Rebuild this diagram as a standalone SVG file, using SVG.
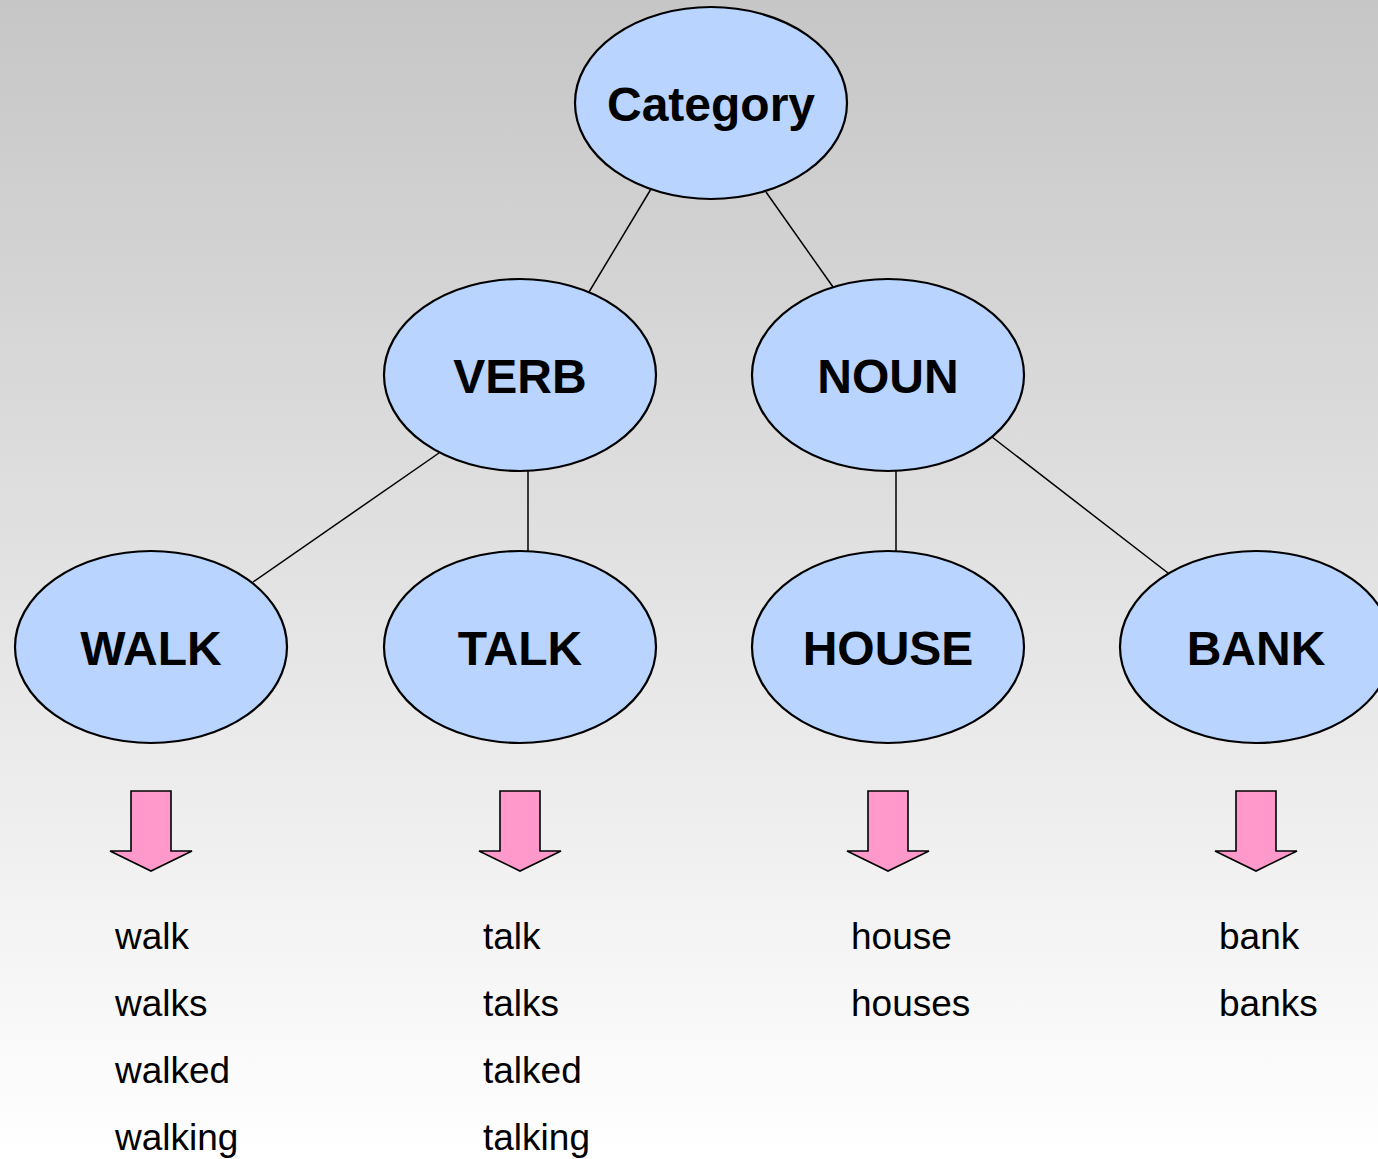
<svg xmlns="http://www.w3.org/2000/svg" width="1378" height="1159" viewBox="0 0 1378 1159">
  <defs>
    <linearGradient id="bg" x1="0" y1="0" x2="0" y2="1">
      <stop offset="0" stop-color="#c6c6c6"/>
      <stop offset="1" stop-color="#ffffff"/>
    </linearGradient>
    <path id="downArrow" d="M-20,-80 H20 V-20 H41 L0,0 L-41,-20 H-20 Z"/>
  </defs>
  <style>
    .node ellipse { fill: #b8d4ff; stroke: #000; stroke-width: 2.2; }
    .node text { font-family: "Liberation Sans", Arial, sans-serif; font-weight: bold; font-size: 48px; fill: #000; text-anchor: middle; }
    .edges line { stroke: #000; stroke-width: 1.5; }
    .arrow { fill: #ff99cc; stroke: #000; stroke-width: 1.6; }
    .forms text { font-family: "Liberation Sans", Arial, sans-serif; font-size: 37px; fill: #000; }
  </style>

  <rect x="0" y="0" width="1378" height="1159" fill="url(#bg)"/>

  <g class="edges" id="connectors">
    <line x1="651" y1="189" x2="589" y2="292"/>
    <line x1="766" y1="192" x2="833" y2="287"/>
    <line x1="439" y1="453" x2="253" y2="582"/>
    <line x1="528" y1="471" x2="528" y2="551"/>
    <line x1="896" y1="471" x2="896" y2="551"/>
    <line x1="992" y1="437" x2="1168" y2="573"/>
  </g>

  <g class="node" id="category">
    <ellipse cx="711" cy="103" rx="136" ry="96"/>
    <text x="711" y="121">Category</text>
  </g>
  <g class="node" id="verb">
    <ellipse cx="520" cy="375" rx="136" ry="96"/>
    <text x="520" y="393">VERB</text>
  </g>
  <g class="node" id="noun">
    <ellipse cx="888" cy="375" rx="136" ry="96"/>
    <text x="888" y="393">NOUN</text>
  </g>
  <g class="node" id="walk">
    <ellipse cx="151" cy="647" rx="136" ry="96"/>
    <text x="151" y="665">WALK</text>
  </g>
  <g class="node" id="talk">
    <ellipse cx="520" cy="647" rx="136" ry="96"/>
    <text x="520" y="665">TALK</text>
  </g>
  <g class="node" id="house">
    <ellipse cx="888" cy="647" rx="136" ry="96"/>
    <text x="888" y="665">HOUSE</text>
  </g>
  <g class="node" id="bank">
    <ellipse cx="1256" cy="647" rx="136" ry="96"/>
    <text x="1256" y="665">BANK</text>
  </g>

  <g id="arrows">
    <use href="#downArrow" class="arrow" x="151" y="871"/>
    <use href="#downArrow" class="arrow" x="520" y="871"/>
    <use href="#downArrow" class="arrow" x="888" y="871"/>
    <use href="#downArrow" class="arrow" x="1256" y="871"/>
  </g>

  <g class="forms" id="walk-forms">
    <text x="115" y="949">walk</text>
    <text x="115" y="1016">walks</text>
    <text x="115" y="1083">walked</text>
    <text x="115" y="1150">walking</text>
  </g>
  <g class="forms" id="talk-forms">
    <text x="483" y="949">talk</text>
    <text x="483" y="1016">talks</text>
    <text x="483" y="1083">talked</text>
    <text x="483" y="1150">talking</text>
  </g>
  <g class="forms" id="house-forms">
    <text x="851" y="949">house</text>
    <text x="851" y="1016">houses</text>
  </g>
  <g class="forms" id="bank-forms">
    <text x="1219" y="949">bank</text>
    <text x="1219" y="1016">banks</text>
  </g>
</svg>
